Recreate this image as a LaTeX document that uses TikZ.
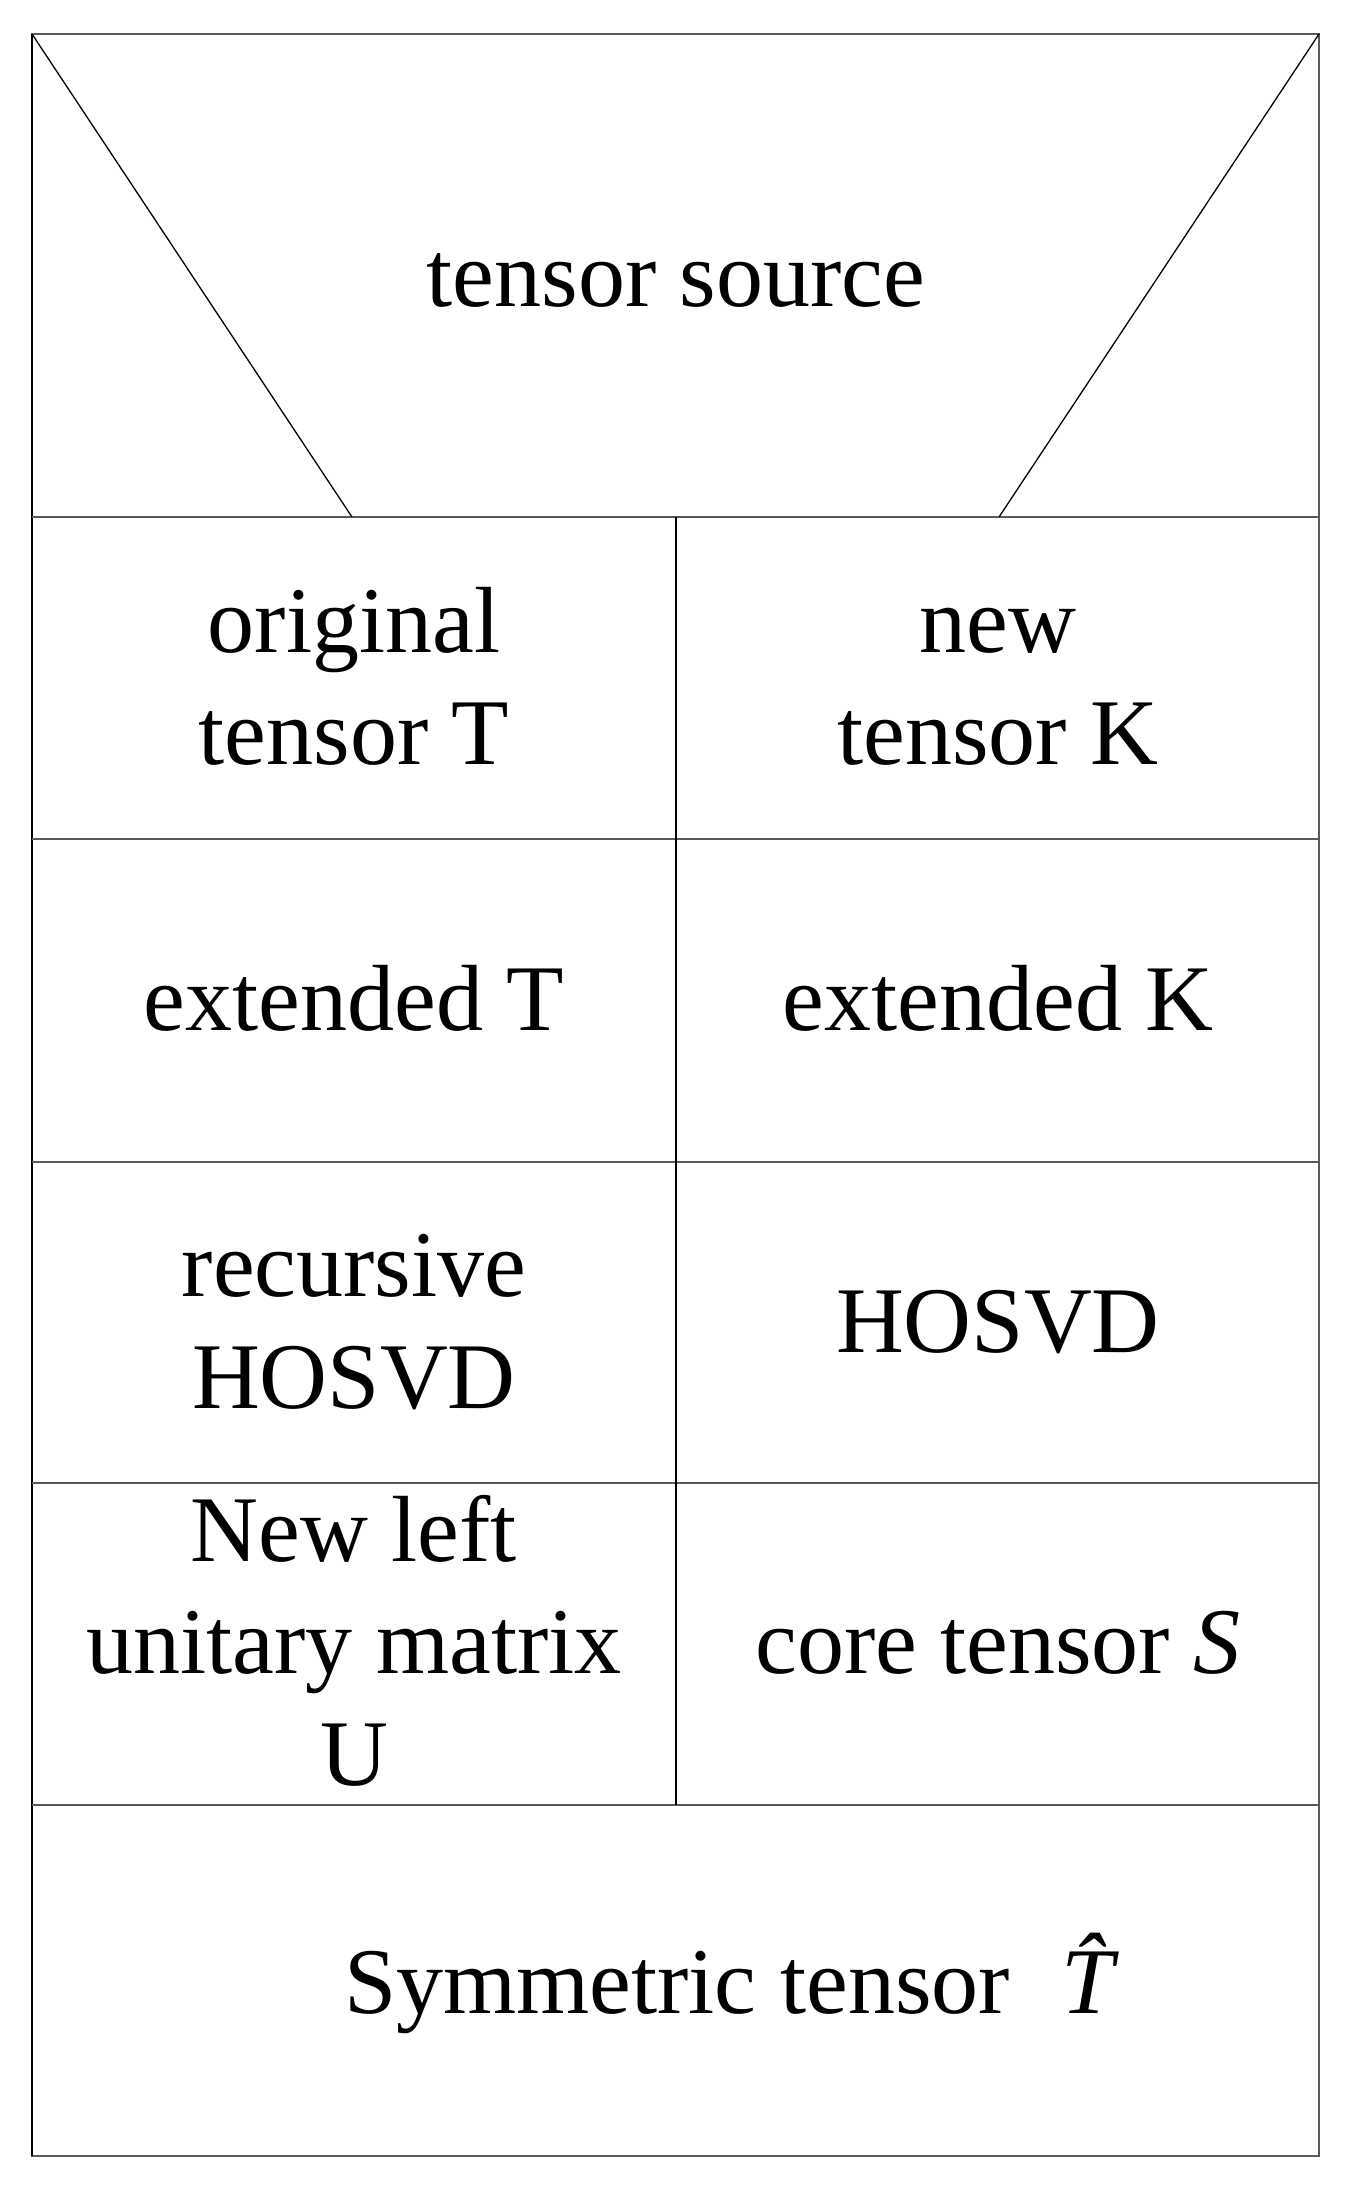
\documentclass[tikz,border=0pt]{standalone}
\usepackage{fontspec}
\setmainfont{Liberation Serif}
\begin{document}
\begin{tikzpicture}[x=1pt,y=-1pt,
  frame/.style={draw=black!65,line width=2.2pt},
  vline/.style={draw=black,line width=1.6pt},
  diag/.style={draw=black,line width=1.3pt},
  lbl/.style={align=center,inner sep=0pt,font=\fontsize{94}{112}\selectfont}]
\useasboundingbox[fill=white] (0,0) rectangle (1353,2190);
% grid
\coordinate (TL) at (32,34);
\coordinate (TR) at (1319,34);
\coordinate (BL) at (32,2156);
\coordinate (BR) at (1319,2156);
\coordinate (DL) at (352,517);
\coordinate (DR) at (999,517);
\coordinate (M1) at (676,517);
\coordinate (M2) at (676,1805);
\draw[frame] (TL) rectangle (BR);
\draw[vline] (TL) -- (BL);
\foreach \y in {517,839,1162,1483,1805} \draw[frame] (32,\y) -- (1319,\y);
\draw[vline] (M1) -- (M2);
\draw[diag] (TL) -- (DL);
\draw[diag] (TR) -- (DR);
% labels
\node[lbl] (src) at (676,284) {\strut tensor source\strut};
\node[lbl] (origT) at (354,686) {\strut original\\tensor T\strut};
\node[lbl] (newK) at (998,686) {\strut new\\tensor K\strut};
\node[lbl] (extT) at (354,1008) {\strut extended T\strut};
\node[lbl] (extK) at (998,1008) {\strut extended K\strut};
\node[lbl] (rec) at (354,1330) {\strut recursive\\HOSVD\strut};
\node[lbl] (hosvd) at (998,1330) {\strut HOSVD\strut};
\node[lbl] (U) at (354,1651) {\strut New left\\unitary matrix\\U\strut};
\node[lbl] (S) at (998,1651) {\strut core tensor \textit{S}\strut};
\node[lbl] (sym) at (729,1990) {\strut Symmetric tensor\hspace{0.55em}{\itshape\^{T}}\strut};
\end{tikzpicture}
\end{document}
